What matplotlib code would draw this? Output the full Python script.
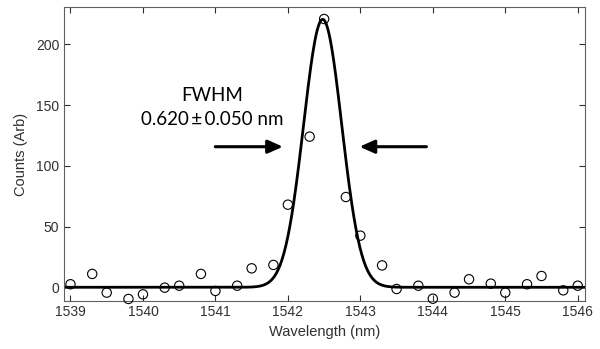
import numpy as np
import matplotlib.pyplot as plt

# measured points
wavelength = [1539.0, 1539.3, 1539.5, 1539.8, 1540.0, 1540.3, 1540.5, 1540.8,
              1541.0, 1541.3, 1541.5, 1541.8, 1542.0, 1542.3, 1542.5, 1542.8,
              1543.0, 1543.3, 1543.5, 1543.8, 1544.0, 1544.3, 1544.5, 1544.8,
              1545.0, 1545.3, 1545.5, 1545.8, 1546.0]
counts = [2.5, 11, -4.4, -9.6, -5.8, -0.3, 1.3, 11,
          -3, 1.3, 15.6, 18.4, 68, 124, 220.8, 74.3,
          42.5, 18, -1.4, 1.3, -9.4, -4.4, 6.6, 3,
          -4.4, 2.5, 9.3, -2.5, 1.3]

# gaussian fit parameters
amplitude = 220.5
centre = 1542.48
fwhm = 0.620
fwhm_err = 0.050

x_ticks = [1539, 1540, 1541, 1542, 1543, 1544, 1545, 1546]
y_ticks = [0, 50, 100, 150, 200]

sigma = fwhm / (2 * np.sqrt(2 * np.log(2)))
x_fit = np.linspace(1538.9, 1546.1, 800)
y_fit = amplitude * np.exp(-(x_fit - centre) ** 2 / (2 * sigma ** 2))

plt.rcParams['font.family'] = ['Liberation Sans', 'DejaVu Sans']

fig = plt.figure(figsize=(6, 3.49), dpi=100)
ax = fig.add_axes([0.106, 0.1375, 0.869, 0.8425])

ax.plot(x_fit, y_fit, color='black', linewidth=2)
ax.scatter(wavelength, counts, s=45, facecolors='none', edgecolors='black',
           linewidths=0.8, zorder=3, clip_on=False)

ax.set_xlim(1538.905, 1546.1)
ax.set_ylim(-11.3, 230.7)
ax.set_xticks(x_ticks)
ax.set_yticks(y_ticks)
ax.tick_params(direction='in', top=True, right=True, length=4, width=0.8,
               labelsize=10, colors='#303030', pad=3)
for s in ax.spines.values():
    s.set_color('#606060')
    s.set_linewidth(0.8)

ax.set_xlabel('Wavelength (nm)', fontsize=10.5, color='#303030', labelpad=4)
ax.set_ylabel('Counts (Arb)', fontsize=10.5, color='#303030', labelpad=6)

ax.annotate('', xy=(1541.97, 115.7), xytext=(1540.96, 115.7),
            arrowprops=dict(arrowstyle='-|>,head_length=0.9,head_width=0.4',
                            color='black', lw=2.2))
ax.annotate('', xy=(1542.95, 115.7), xytext=(1543.95, 115.7),
            arrowprops=dict(arrowstyle='-|>,head_length=0.9,head_width=0.4',
                            color='black', lw=2.2))

ax.text(1540.96, 157.5, 'FWHM', ha='center', va='center', fontsize=13.5,
        family=['Lato', 'DejaVu Sans'])
ax.text(1540.96, 138.5, f'{fwhm:.3f}\u2009\u00b1\u2009{fwhm_err:.3f} nm', ha='center',
        va='center', fontsize=13.5, family=['Lato', 'DejaVu Sans'])

fig.savefig('out.png', dpi=100)
